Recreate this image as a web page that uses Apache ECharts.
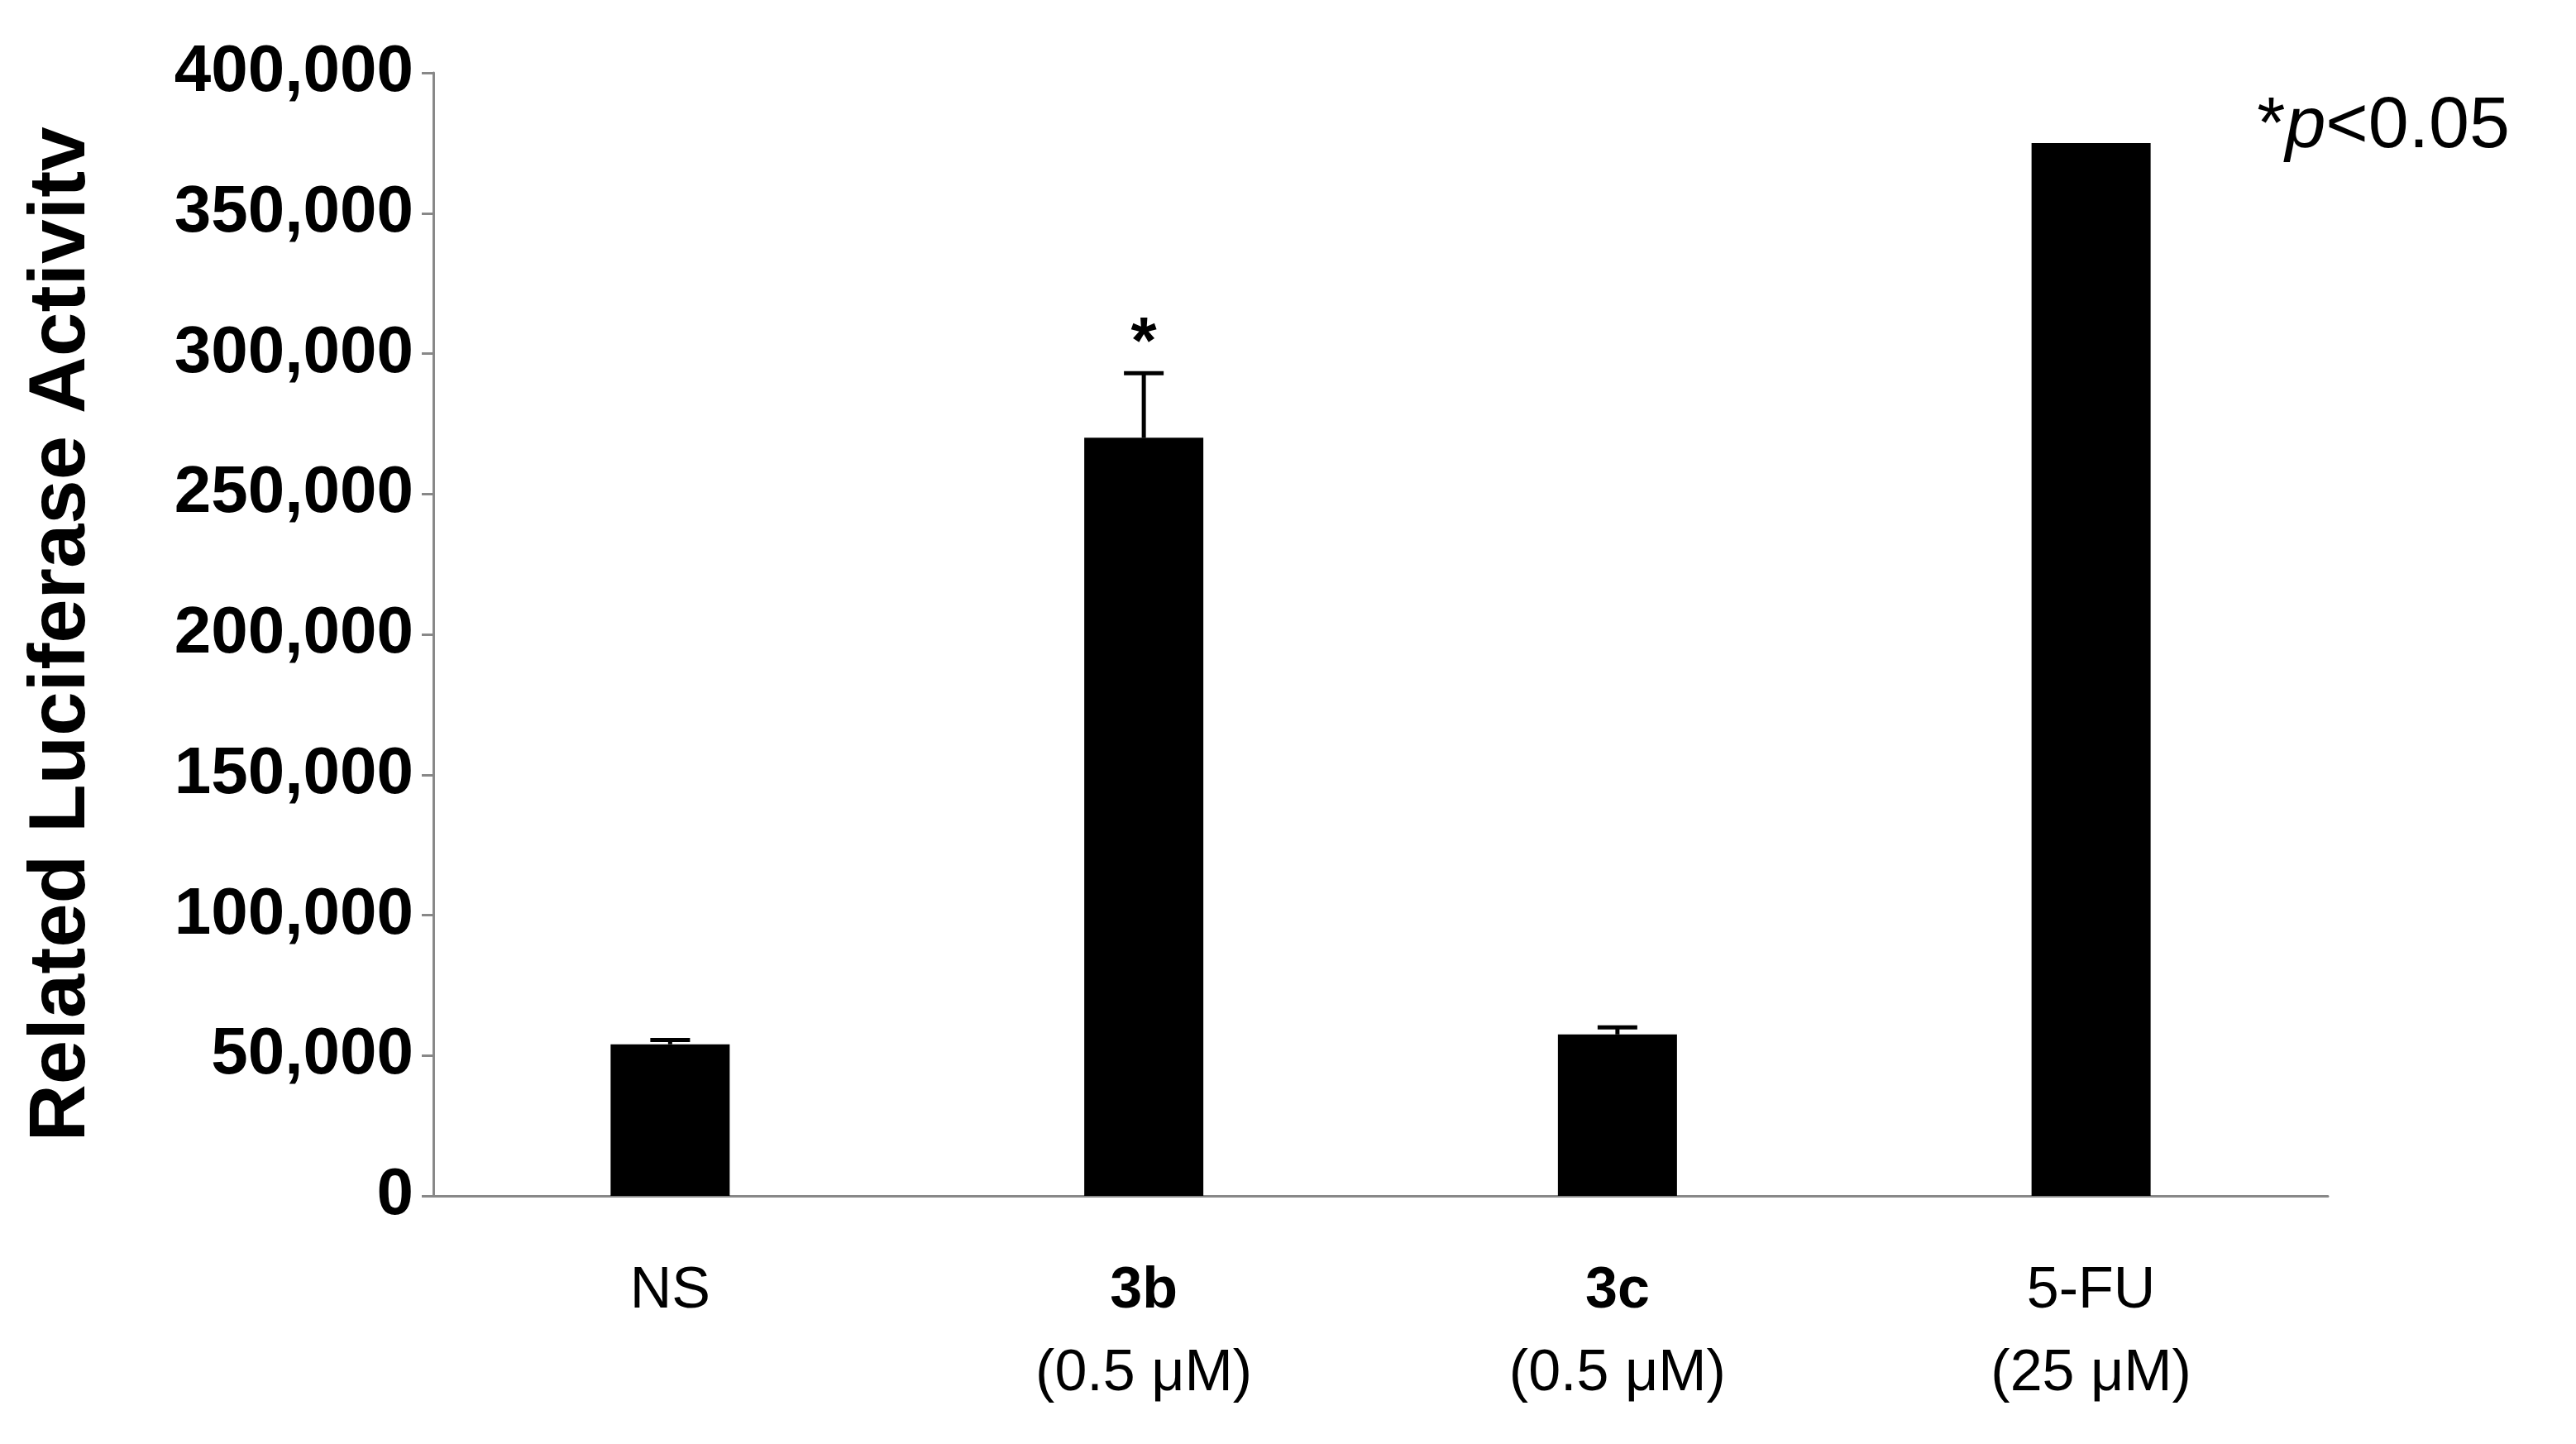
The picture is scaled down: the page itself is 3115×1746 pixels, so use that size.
<!DOCTYPE html>
<html><head><meta charset="utf-8">
<script src="https://cdn.jsdelivr.net/npm/echarts@6/dist/echarts.min.js"></script>
<style>html,body{margin:0;padding:0;background:#fff}#c{width:3115px;height:1746px}</style>
</head><body><div id="c"></div>
<script>
const categories = ['NS', '{b|3b}\n(0.5 μM)', '{b|3c}\n(0.5 μM)', '5-FU\n(25 μM)'];
const values = [54000, 270000, 57500, 375000];
const errors = [1500, 23000, 2500, 0];
const sigMarks = ['', '*', '', ''];
const yTicks = [0, 50000, 100000, 150000, 200000, 250000, 300000, 350000, 400000];

const chart = echarts.init(document.getElementById('c'));
chart.setOption({
  animation: false,
  backgroundColor: '#fff',
  textStyle: { fontFamily: 'Liberation Sans, Arial, sans-serif' },
  grid: { left: 524, right: 300, top: 88, bottom: 300 },
  graphic: [{ type: 'text', right: 80, top: 110, style: { rich: { p: { fontStyle: 'italic', fontSize: 88, fontFamily: 'Liberation Sans' }, n: { fontSize: 88, fontFamily: 'Liberation Sans' } }, text: '{n|*}{p|p}{n|<0.05}', fill: '#000' } }],
  xAxis: {
    type: 'category', data: categories,
    axisLine: { lineStyle: { color: '#888', width: 3 } },
    axisTick: { show: false },
    axisLabel: { color: '#000', fontSize: 70, lineHeight: 100, margin: 66,
      rich: { b: { fontWeight: 'bold', fontSize: 70, lineHeight: 100 } } }
  },
  yAxis: {
    type: 'value', min: 0, max: yTicks[yTicks.length - 1], interval: 50000,
    name: 'Related Luciferase Activitv', nameLocation: 'middle', nameGap: 400,
    nameTextStyle: { fontSize: 96, fontWeight: 'bold', color: '#000' },
    axisLine: { show: true, lineStyle: { color: '#888', width: 3 } },
    axisTick: { show: true, length: 14, lineStyle: { color: '#888', width: 3 } },
    splitLine: { show: false },
    axisLabel: { color: '#000', fontSize: 80, fontWeight: 'bold', margin: 24,
      formatter: v => v.toLocaleString('en-US') }
  },
  series: [
    { type: 'bar', data: values, barWidth: 144, itemStyle: { color: '#000' } },
    { type: 'custom', data: values.map((v, i) => [i, v, errors[i], sigMarks[i]]),
      z: 5,
      renderItem: (params, api) => {
        const i = api.value(0), v = api.value(1), e = api.value(2);
        const base = api.coord([i, v]);
        const top = api.coord([i, v + e]);
        const children = [];
        if (e > 0) {
          children.push({ type: 'line', shape: { x1: base[0], y1: base[1], x2: base[0], y2: top[1] }, style: { stroke: '#000', lineWidth: 5 } });
          children.push({ type: 'line', shape: { x1: base[0] - 24, y1: top[1], x2: base[0] + 24, y2: top[1] }, style: { stroke: '#000', lineWidth: 5 } });
        }
        const mark = sigMarks[i];
        if (mark) {
          children.push({ type: 'text', style: { text: mark, x: base[0], y: top[1] + 6, align: 'center', verticalAlign: 'bottom', fontSize: 80, fontWeight: 'bold', fill: '#000' } });
        }
        return { type: 'group', children };
      }
    }
  ]
});
</script></body></html>
